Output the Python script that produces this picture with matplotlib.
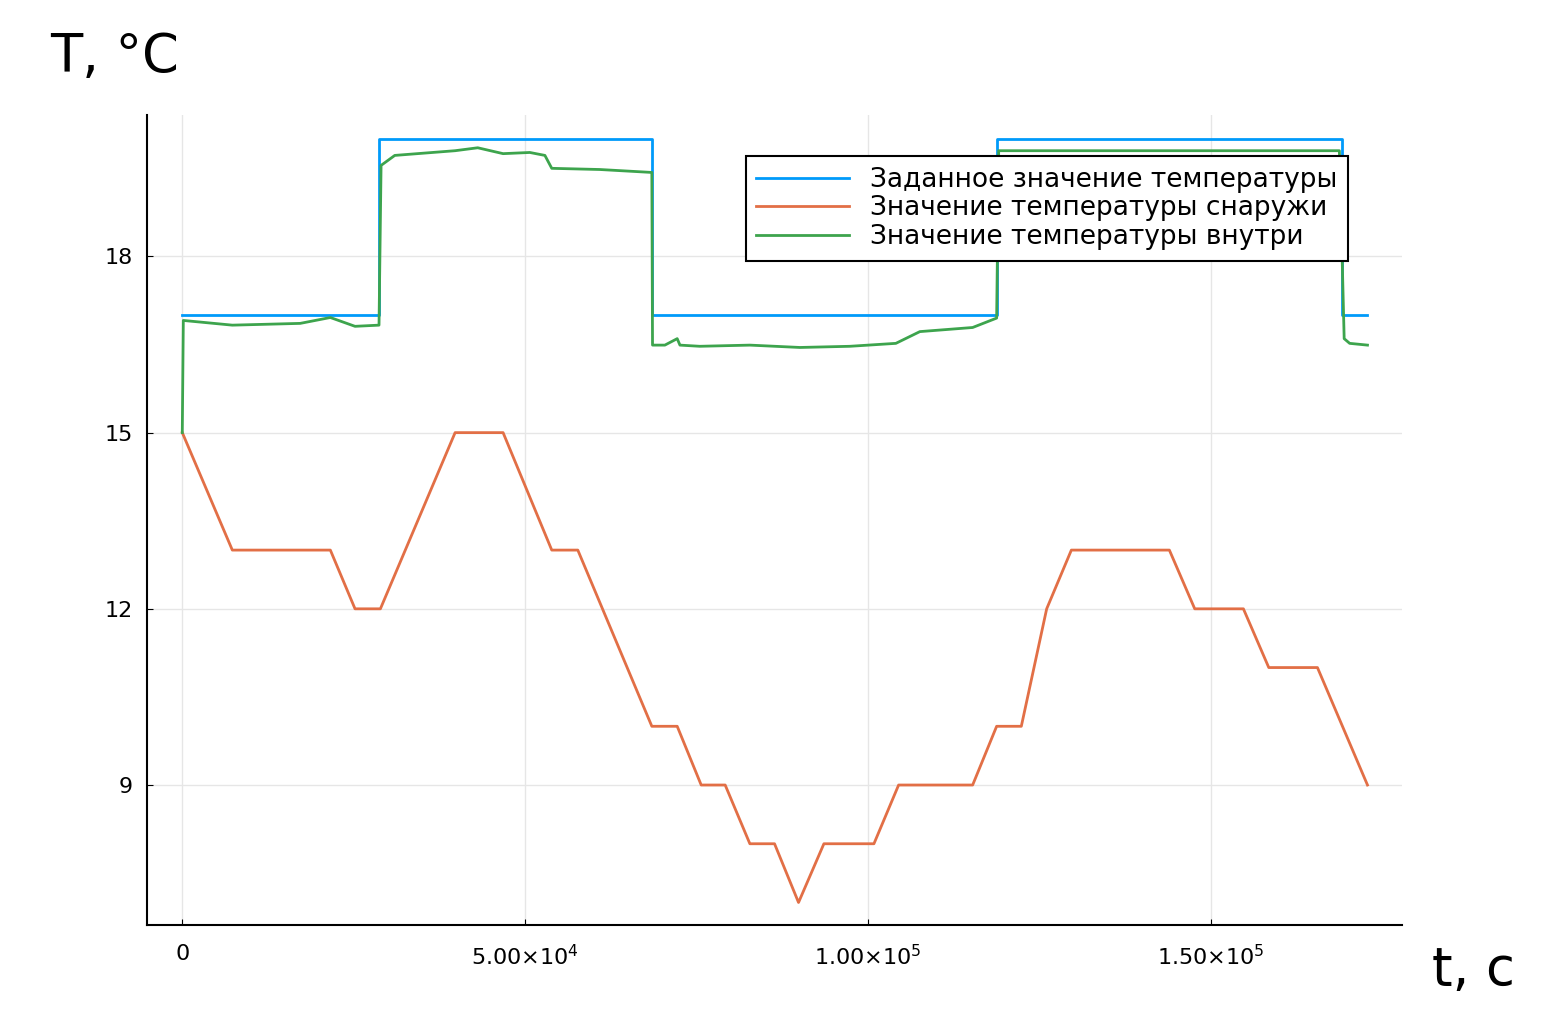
import matplotlib
matplotlib.use("Agg")
import matplotlib.pyplot as plt

# setpoint (step)
t_set = [0, 28700, 28700, 68500, 68500, 118800, 118800, 169200, 169200, 172900]
T_set = [17, 17, 20, 20, 17, 17, 20, 20, 17, 17]

# outside temperature
t_out = [0, 7300, 21600, 25200, 28900, 39800, 46800, 53900, 57700, 68500, 72200,
         75700, 79200, 82800, 86400, 89900, 93600, 100900, 104500, 115300, 118800,
         122400, 126100, 129700, 144000, 147700, 154800, 158500, 165600, 172900]
T_out = [15, 13, 13, 12, 12, 15, 15, 13, 13, 10, 10,
         9, 9, 8, 8, 7, 8, 8, 9, 9, 10,
         10, 12, 13, 13, 12, 12, 11, 11, 9]

# inside temperature
t_in = [0, 150, 7300, 17200, 21600, 25200, 28700, 29000, 31000, 39800, 43100,
        46800, 50700, 52900, 53900, 60900, 68500, 68600, 70400, 72200, 72600,
        75500, 82800, 90100, 97400, 104100, 107600, 115300, 118800, 119100,
        133800, 168800, 169200, 169500, 170300, 172900]
T_in = [15, 16.91, 16.83, 16.86, 16.96, 16.81, 16.83, 19.55, 19.72, 19.8, 19.85,
        19.75, 19.77, 19.72, 19.5, 19.48, 19.43, 16.49, 16.49, 16.6, 16.49,
        16.47, 16.49, 16.45, 16.47, 16.52, 16.72, 16.79, 16.95, 19.8,
        19.8, 19.8, 18.0, 16.6, 16.52, 16.49]

fig = plt.figure(figsize=(15.6, 10.31), dpi=100)
ax = fig.add_axes([0.094, 0.103, 0.805, 0.785])
ax.plot(t_set, T_set, color="#009AFA", lw=2, label="Заданное значение температуры")
ax.plot(t_out, T_out, color="#E26F46", lw=2, label="Значение температуры снаружи")
ax.plot(t_in, T_in, color="#3DA44D", lw=2, label="Значение температуры внутри")

ax.set_xlim(-5200, 178000)
ax.set_ylim(6.62, 20.4)
ax.set_xticks([0, 50000, 100000, 150000])
ax.set_xticklabels(["0", r"$5.00{\times}10^4$", r"$1.00{\times}10^5$", r"$1.50{\times}10^5$"])
ax.set_yticks([9, 12, 15, 18])
ax.tick_params(labelsize=16, direction="in", length=4)
ax.tick_params(axis="x", pad=14)
ax.tick_params(axis="y", pad=10)
ax.grid(color="#e6e6e6", lw=1)
ax.spines["top"].set_visible(False)
ax.spines["right"].set_visible(False)
ax.spines["left"].set_linewidth(1.5)
ax.spines["bottom"].set_linewidth(1.5)

leg = ax.legend(loc="upper right", bbox_to_anchor=(0.967, 0.966), fontsize=19,
                fancybox=False, framealpha=1, edgecolor="black", handlelength=3.5,
                labelspacing=0.1, borderpad=0.4)
leg.get_frame().set_linewidth(1.5)

fig.text(0.032, 0.93, "T, °C", fontsize=38)
fig.text(0.918, 0.045, "t, c", fontsize=38)

fig.savefig("out.png", dpi=100)
